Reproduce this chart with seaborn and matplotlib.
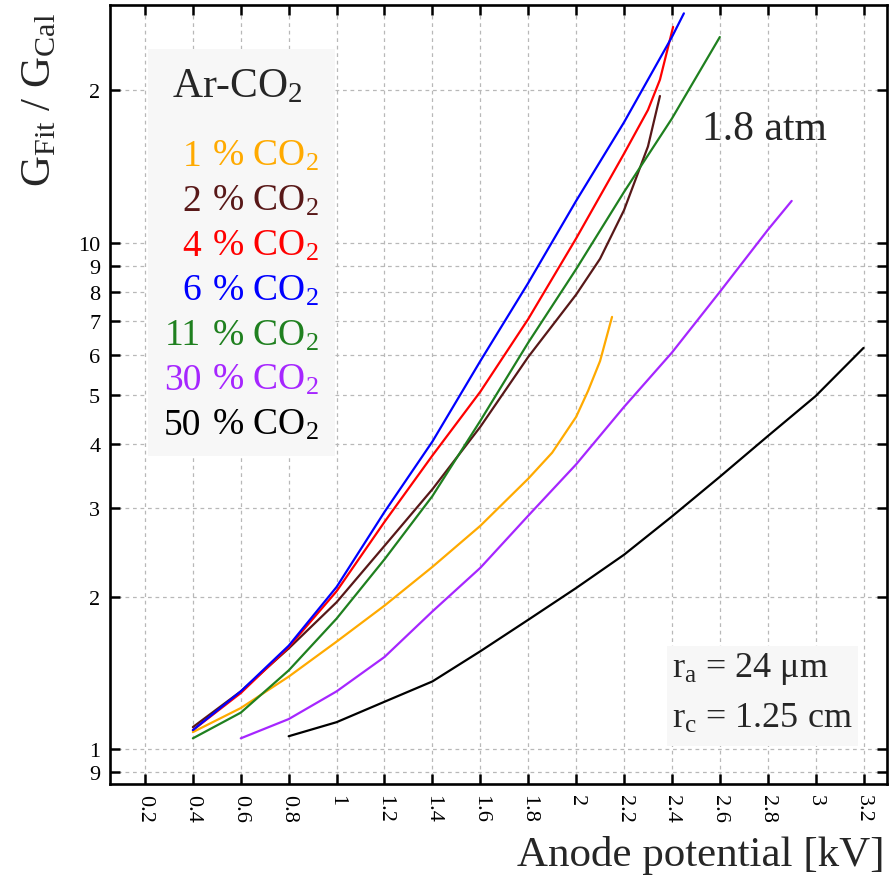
import pandas as pd
import matplotlib.pyplot as plt
import seaborn as sns
from matplotlib.patches import Rectangle
from matplotlib.ticker import FixedLocator, FixedFormatter, NullLocator

# Gain ratio G_Fit / G_Cal vs anode potential, Ar-CO2 at 1.8 atm
mixes = ["1", "2", "4", "6", "11", "30", "50"]
colors = ["#ffaa00", "#581818", "#ff0000", "#0000ff", "#1f801f", "#a626ff", "#000000"]

v_1 = [0.4, 0.6, 0.8, 1.0, 1.2, 1.4, 1.6, 1.8, 1.9, 2.0, 2.05, 2.1, 2.15]
g_1 = [1.08, 1.205, 1.39, 1.63, 1.92, 2.29, 2.76, 3.42, 3.85, 4.53, 5.1, 5.84, 7.14]

v_2 = [0.4, 0.6, 0.8, 1.0, 1.2, 1.4, 1.6, 1.8, 2.0, 2.1, 2.2, 2.3, 2.35]
g_2 = [1.105, 1.30, 1.58, 1.95, 2.52, 3.26, 4.33, 5.95, 7.9, 9.3, 11.6, 15.5, 19.5]

v_4 = [0.4, 0.6, 0.8, 1.0, 1.2, 1.4, 1.6, 1.8, 2.0, 2.2, 2.3, 2.35, 2.405]
g_4 = [1.09, 1.29, 1.59, 2.05, 2.81, 3.8, 5.08, 7.07, 10.2, 15.0, 18.3, 21.0, 26.7]

v_6 = [0.4, 0.6, 0.8, 1.0, 1.2, 1.4, 1.6, 1.8, 2.0, 2.2, 2.4, 2.45]
g_6 = [1.09, 1.30, 1.60, 2.09, 2.94, 4.05, 5.84, 8.33, 12.1, 17.3, 25.5, 28.4]

v_11 = [0.4, 0.6, 0.8, 1.0, 1.2, 1.4, 1.6, 1.8, 2.0, 2.2, 2.4, 2.6]
g_11 = [1.05, 1.18, 1.43, 1.81, 2.37, 3.16, 4.45, 6.35, 8.87, 12.6, 17.6, 25.5]

v_30 = [0.6, 0.8, 1.0, 1.2, 1.4, 1.6, 1.8, 2.0, 2.2, 2.4, 2.6, 2.8, 2.9]
g_30 = [1.05, 1.146, 1.30, 1.52, 1.87, 2.28, 2.89, 3.65, 4.74, 6.07, 8.0, 10.6, 12.1]

v_50 = [0.8, 1.0, 1.2, 1.4, 1.6, 1.8, 2.0, 2.2, 2.4, 2.6, 2.8, 3.0, 3.2]
g_50 = [1.06, 1.13, 1.24, 1.36, 1.56, 1.80, 2.08, 2.42, 2.88, 3.45, 4.15, 4.98, 6.2]

x_ticks = [0.2, 0.4, 0.6, 0.8, 1.0, 1.2, 1.4, 1.6, 1.8, 2.0, 2.2, 2.4, 2.6, 2.8, 3.0, 3.2]
y_ticks = [0.9, 1, 2, 3, 4, 5, 6, 7, 8, 9, 10, 20]
y_labels = ["9", "1", "2", "3", "4", "5", "6", "7", "8", "9", "10", "2"]

all_v = [v_1, v_2, v_4, v_6, v_11, v_30, v_50]
all_g = [g_1, g_2, g_4, g_6, g_11, g_30, g_50]
df = pd.concat([pd.DataFrame({"V": v, "G": g, "mix": m})
                for v, g, m in zip(all_v, all_g, mixes)], ignore_index=True)

sns.set_theme(style="ticks")
plt.rcParams['font.family'] = ['Liberation Serif', 'DejaVu Serif']
plt.rcParams['mathtext.fontset'] = 'custom'
plt.rcParams['mathtext.rm'] = 'Liberation Serif'
plt.rcParams['mathtext.it'] = 'Liberation Serif:italic'

W, H = 896, 879
fig = plt.figure(figsize=(W / 100, H / 100), dpi=100)
ax = fig.add_axes([110 / W, 1 - 785 / H, 777 / W, 779 / H])
ax.set_axisbelow(True)


def fp(x, y):
    return x / W, 1 - y / H


sns.lineplot(data=df, x="V", y="G", hue="mix", palette=dict(zip(mixes, colors)),
             estimator=None, sort=False, legend=False, lw=1.6, ax=ax, zorder=3)

ax.set_yscale("log")
ax.set_xlim(0.054, 3.298)
ax.set_ylim(0.853, 29.5)
ax.xaxis.set_major_locator(FixedLocator(x_ticks))
ax.xaxis.set_major_formatter(FixedFormatter([f"{t:g}" for t in x_ticks]))
ax.yaxis.set_major_locator(FixedLocator(y_ticks))
ax.yaxis.set_major_formatter(FixedFormatter(y_labels))
ax.yaxis.set_minor_locator(NullLocator())
ax.xaxis.set_minor_locator(NullLocator())
ax.tick_params(direction="in", length=7, width=1.8, top=True, right=True,
               labelsize=16, color="black", labelcolor="black")
ax.tick_params(axis="x", labelrotation=-90, pad=7)
ax.tick_params(axis="y", pad=7)
ax.set_xlabel("")
ax.set_ylabel("")
ax.grid(True, color="#b8b8b8", linestyle=(0, (3, 3)), linewidth=0.9)
for s in ax.spines.values():
    s.set_linewidth(1.9)
    s.set_color("black")

# legend-like panel
x0, y0 = fp(148, 457)
ax.add_patch(Rectangle((x0, y0), 187 / W, 407 / H, transform=fig.transFigure,
                       facecolor="#f7f7f7", edgecolor="none", zorder=1))
x0, y0 = fp(667, 747)
ax.add_patch(Rectangle((x0, y0), 191 / W, 100 / H, transform=fig.transFigure,
                       facecolor="#f7f7f7", edgecolor="none", zorder=1))

fig.text(*fp(172, 97), r"Ar-CO$_{\mathrm{2}}$", fontsize=30, va="baseline", ha="left")
for i, (m, c) in enumerate(zip(mixes, colors)):
    yb = 166 + i * 44.8
    fig.text(*fp(201, yb), m, fontsize=27, color=c, va="baseline", ha="right")
    fig.text(*fp(212, yb), r"% CO$_{\mathrm{2}}$", fontsize=27, color=c,
             va="baseline", ha="left")

fig.text(*fp(702, 140), "1.8 atm", fontsize=30, va="baseline", ha="left")
fig.text(*fp(672, 677), r"r$_{\mathrm{a}}$ = 24 \u03bcm".replace("\\u03bc", "\u03bc"),
         fontsize=26, va="baseline", ha="left")
fig.text(*fp(672, 728), r"r$_{\mathrm{c}}$ = 1.25 cm", fontsize=26, va="baseline", ha="left")

fig.text(*fp(40, 100), r"G$_{\mathrm{Fit}}$ / G$_{\mathrm{Cal}}$", fontsize=31,
         rotation=90, ha="center", va="center")
fig.text(*fp(885, 866), "Anode potential [kV]", fontsize=31, ha="right", va="baseline")

plt.savefig("out.png", dpi=100)
